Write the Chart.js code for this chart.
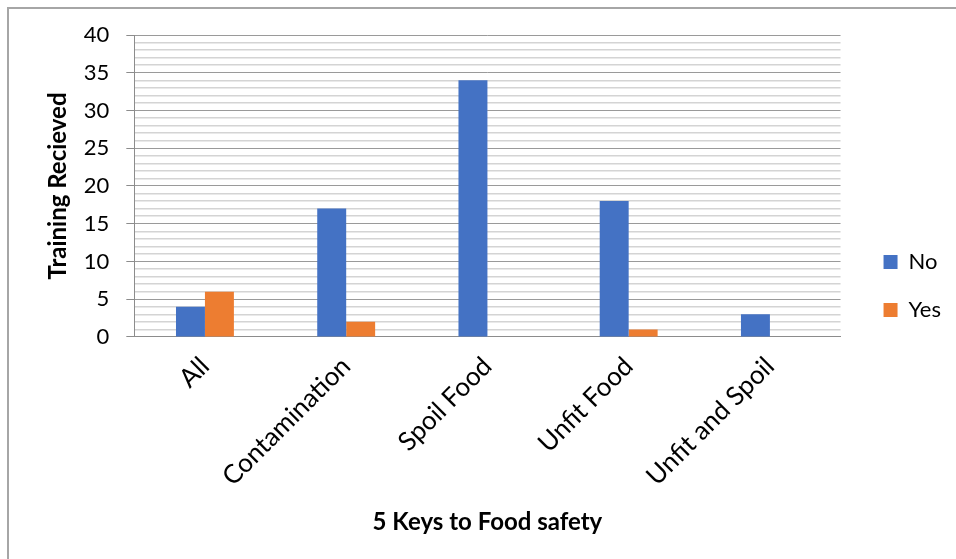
<!DOCTYPE html>
<html>
<head>
<meta charset="utf-8">
<script src="https://cdn.jsdelivr.net/npm/chart.js@4"></script>
<style>
  html, body { margin: 0; padding: 0; background: #fff; }
  #wrap { width: 956px; height: 559px; }
</style>
</head>
<body>
<div id="wrap"><canvas id="chart" width="956" height="559"></canvas></div>
<script>
const categories = ['All', 'Contamination', 'Spoil Food', 'Unfit Food', 'Unfit and Spoil'];
const noValues = [4, 17, 34, 18, 3];
const yesValues = [6, 2, 0, 1, 0];
const yMax = 40;

// outer frame, like the Excel chart border
const framePlugin = {
  id: 'frame',
  beforeDraw(chart) {
    const ctx = chart.ctx;
    ctx.save();
    ctx.strokeStyle = '#a6a6a6';
    ctx.lineWidth = 2;
    ctx.beginPath();
    ctx.moveTo(8, 600);
    ctx.lineTo(8, 8);
    ctx.lineTo(960, 8);
    ctx.stroke();
    ctx.restore();
  }
};

const ctx = document.getElementById('chart').getContext('2d');
new Chart(ctx, {
  type: 'bar',
  data: {
    labels: categories,
    datasets: [
      { label: 'No', data: noValues, backgroundColor: '#4472C4' },
      { label: 'Yes', data: yesValues, backgroundColor: '#ED7D31' }
    ]
  },
  options: {
    responsive: false,
    animation: false,
    datasets: {
      bar: { categoryPercentage: 0.41, barPercentage: 1.0 }
    },
    layout: { padding: { left: 44, right: 5, top: 35, bottom: 22 } },
    plugins: {
      legend: {
        position: 'right',
        labels: {
          boxWidth: 14,
          boxHeight: 14,
          padding: 26,
          color: '#000',
          font: { family: 'Lato', size: 22 }
        }
      },
      tooltip: { enabled: false }
    },
    scales: {
      x: {
        grid: { display: false },
        border: { color: '#8c8c8c', width: 1 },
        ticks: {
          minRotation: 45,
          maxRotation: 45,
          padding: 6,
          color: '#000',
          font: { family: 'Lato', size: 26 }
        },
        title: {
          display: true,
          text: '5 Keys to Food safety',
          color: '#000',
          font: { family: 'Lato', size: 24, weight: 'bold' },
          padding: { top: 10, bottom: 0 }
        }
      },
      y: {
        min: 0,
        max: yMax,
        border: { color: '#8c8c8c', width: 1 },
        grid: {
          color: c => (c.tick && c.tick.value % 5 === 0) ? '#9a9a9a' : '#d4d4d4',
          lineWidth: c => (c.tick && c.tick.value % 5 === 0) ? 1 : 1.5,
          tickLength: 8,
          tickColor: c => (c.tick && c.tick.value % 5 === 0) ? '#8c8c8c' : 'rgba(0,0,0,0)'
        },
        ticks: {
          stepSize: 1,
          autoSkip: false,
          padding: 17,
          color: '#000',
          font: { family: 'Lato', size: 22 },
          callback: v => (v % 5 === 0 ? v : '')
        },
        title: {
          display: true,
          text: 'Training Recieved',
          color: '#000',
          font: { family: 'Lato', size: 24, weight: 'bold' },
          padding: { top: 0, bottom: -6 }
        }
      },
      // empty gap between the plot area and the legend
      gap: {
        position: 'right',
        display: true,
        grid: { display: false },
        border: { display: false },
        ticks: { display: false },
        afterFit: s => { s.width = 17; }
      }
    }
  },
  plugins: [framePlugin]
});
</script>
</body>
</html>
